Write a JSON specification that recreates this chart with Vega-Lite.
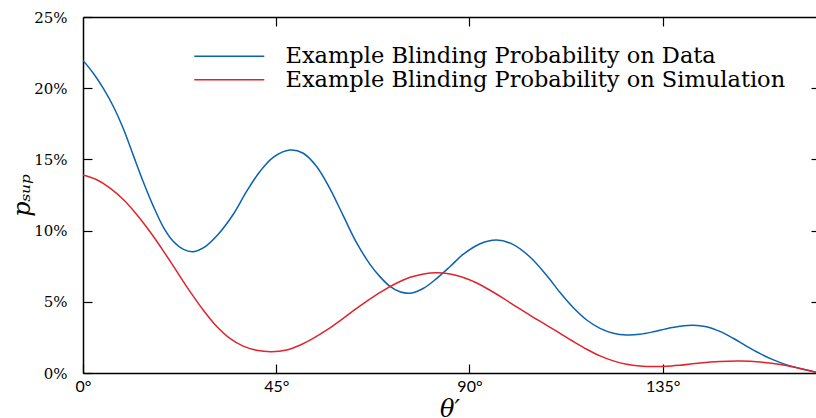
{
  "$schema": "https://vega.github.io/schema/vega-lite/v6.json",
  "width": 733,
  "height": 356,
  "autosize": {"type": "none"},
  "padding": {"left": 83, "top": 17, "right": 0, "bottom": 45},
  "background": "white",
  "config": {"view": {"stroke": null}},
  "data": {"values": [
    {"series": "Example Blinding Probability on Data", "theta": 0, "p": 0.2195},
    {"series": "Example Blinding Probability on Data", "theta": 2.4, "p": 0.2105},
    {"series": "Example Blinding Probability on Data", "theta": 4.7, "p": 0.2},
    {"series": "Example Blinding Probability on Data", "theta": 7.1, "p": 0.187},
    {"series": "Example Blinding Probability on Data", "theta": 9.4, "p": 0.1715},
    {"series": "Example Blinding Probability on Data", "theta": 11.7, "p": 0.153},
    {"series": "Example Blinding Probability on Data", "theta": 14.0, "p": 0.1345},
    {"series": "Example Blinding Probability on Data", "theta": 16.4, "p": 0.117},
    {"series": "Example Blinding Probability on Data", "theta": 18.7, "p": 0.1025},
    {"series": "Example Blinding Probability on Data", "theta": 21.0, "p": 0.0925},
    {"series": "Example Blinding Probability on Data", "theta": 23.4, "p": 0.0868},
    {"series": "Example Blinding Probability on Data", "theta": 25.7, "p": 0.0852},
    {"series": "Example Blinding Probability on Data", "theta": 28.0, "p": 0.0878},
    {"series": "Example Blinding Probability on Data", "theta": 31.5, "p": 0.0975},
    {"series": "Example Blinding Probability on Data", "theta": 35.0, "p": 0.1115},
    {"series": "Example Blinding Probability on Data", "theta": 38.1, "p": 0.1275},
    {"series": "Example Blinding Probability on Data", "theta": 41.2, "p": 0.1415},
    {"series": "Example Blinding Probability on Data", "theta": 44.3, "p": 0.1515},
    {"series": "Example Blinding Probability on Data", "theta": 48.2, "p": 0.1566},
    {"series": "Example Blinding Probability on Data", "theta": 51.3, "p": 0.1543},
    {"series": "Example Blinding Probability on Data", "theta": 54.4, "p": 0.145},
    {"series": "Example Blinding Probability on Data", "theta": 57.5, "p": 0.1295},
    {"series": "Example Blinding Probability on Data", "theta": 60.6, "p": 0.1105},
    {"series": "Example Blinding Probability on Data", "theta": 63.7, "p": 0.0915},
    {"series": "Example Blinding Probability on Data", "theta": 66.8, "p": 0.0765},
    {"series": "Example Blinding Probability on Data", "theta": 69.2, "p": 0.0675},
    {"series": "Example Blinding Probability on Data", "theta": 71.5, "p": 0.0608},
    {"series": "Example Blinding Probability on Data", "theta": 73.8, "p": 0.057},
    {"series": "Example Blinding Probability on Data", "theta": 76.2, "p": 0.056},
    {"series": "Example Blinding Probability on Data", "theta": 79.3, "p": 0.0595},
    {"series": "Example Blinding Probability on Data", "theta": 82.4, "p": 0.0665},
    {"series": "Example Blinding Probability on Data", "theta": 85.5, "p": 0.0748},
    {"series": "Example Blinding Probability on Data", "theta": 88.6, "p": 0.0835},
    {"series": "Example Blinding Probability on Data", "theta": 92.5, "p": 0.0908},
    {"series": "Example Blinding Probability on Data", "theta": 96.3, "p": 0.0934},
    {"series": "Example Blinding Probability on Data", "theta": 100.2, "p": 0.0902},
    {"series": "Example Blinding Probability on Data", "theta": 104.1, "p": 0.0815},
    {"series": "Example Blinding Probability on Data", "theta": 108.0, "p": 0.0685},
    {"series": "Example Blinding Probability on Data", "theta": 111.1, "p": 0.0565},
    {"series": "Example Blinding Probability on Data", "theta": 114.2, "p": 0.0458},
    {"series": "Example Blinding Probability on Data", "theta": 117.3, "p": 0.0372},
    {"series": "Example Blinding Probability on Data", "theta": 120.4, "p": 0.0313},
    {"series": "Example Blinding Probability on Data", "theta": 123.5, "p": 0.0279},
    {"series": "Example Blinding Probability on Data", "theta": 126.6, "p": 0.0267},
    {"series": "Example Blinding Probability on Data", "theta": 129.7, "p": 0.0272},
    {"series": "Example Blinding Probability on Data", "theta": 132.8, "p": 0.0289},
    {"series": "Example Blinding Probability on Data", "theta": 135.9, "p": 0.0311},
    {"series": "Example Blinding Probability on Data", "theta": 139.0, "p": 0.0328},
    {"series": "Example Blinding Probability on Data", "theta": 142.1, "p": 0.0336},
    {"series": "Example Blinding Probability on Data", "theta": 145.2, "p": 0.0325},
    {"series": "Example Blinding Probability on Data", "theta": 148.3, "p": 0.0292},
    {"series": "Example Blinding Probability on Data", "theta": 151.4, "p": 0.0244},
    {"series": "Example Blinding Probability on Data", "theta": 154.6, "p": 0.0187},
    {"series": "Example Blinding Probability on Data", "theta": 157.7, "p": 0.0136},
    {"series": "Example Blinding Probability on Data", "theta": 160.8, "p": 0.0092},
    {"series": "Example Blinding Probability on Data", "theta": 163.9, "p": 0.0057},
    {"series": "Example Blinding Probability on Data", "theta": 167.0, "p": 0.0031},
    {"series": "Example Blinding Probability on Data", "theta": 170.7, "p": 0.0005},
    {"series": "Example Blinding Probability on Simulation", "theta": 0, "p": 0.139},
    {"series": "Example Blinding Probability on Simulation", "theta": 3.2, "p": 0.1357},
    {"series": "Example Blinding Probability on Simulation", "theta": 6.3, "p": 0.1299},
    {"series": "Example Blinding Probability on Simulation", "theta": 9.4, "p": 0.1218},
    {"series": "Example Blinding Probability on Simulation", "theta": 12.5, "p": 0.1113},
    {"series": "Example Blinding Probability on Simulation", "theta": 15.6, "p": 0.0992},
    {"series": "Example Blinding Probability on Simulation", "theta": 18.7, "p": 0.0858},
    {"series": "Example Blinding Probability on Simulation", "theta": 21.8, "p": 0.0715},
    {"series": "Example Blinding Probability on Simulation", "theta": 24.9, "p": 0.0573},
    {"series": "Example Blinding Probability on Simulation", "theta": 28.0, "p": 0.0442},
    {"series": "Example Blinding Probability on Simulation", "theta": 31.1, "p": 0.0328},
    {"series": "Example Blinding Probability on Simulation", "theta": 34.2, "p": 0.0243},
    {"series": "Example Blinding Probability on Simulation", "theta": 37.3, "p": 0.0189},
    {"series": "Example Blinding Probability on Simulation", "theta": 40.4, "p": 0.016},
    {"series": "Example Blinding Probability on Simulation", "theta": 43.9, "p": 0.015},
    {"series": "Example Blinding Probability on Simulation", "theta": 47.4, "p": 0.0162},
    {"series": "Example Blinding Probability on Simulation", "theta": 50.5, "p": 0.0195},
    {"series": "Example Blinding Probability on Simulation", "theta": 53.6, "p": 0.0243},
    {"series": "Example Blinding Probability on Simulation", "theta": 56.8, "p": 0.0302},
    {"series": "Example Blinding Probability on Simulation", "theta": 59.9, "p": 0.0368},
    {"series": "Example Blinding Probability on Simulation", "theta": 62.9, "p": 0.0436},
    {"series": "Example Blinding Probability on Simulation", "theta": 66.1, "p": 0.0505},
    {"series": "Example Blinding Probability on Simulation", "theta": 69.5, "p": 0.0572},
    {"series": "Example Blinding Probability on Simulation", "theta": 73.1, "p": 0.0632},
    {"series": "Example Blinding Probability on Simulation", "theta": 76.2, "p": 0.0672},
    {"series": "Example Blinding Probability on Simulation", "theta": 79.3, "p": 0.0696},
    {"series": "Example Blinding Probability on Simulation", "theta": 82.4, "p": 0.0704},
    {"series": "Example Blinding Probability on Simulation", "theta": 85.5, "p": 0.0695},
    {"series": "Example Blinding Probability on Simulation", "theta": 88.6, "p": 0.0671},
    {"series": "Example Blinding Probability on Simulation", "theta": 91.7, "p": 0.0632},
    {"series": "Example Blinding Probability on Simulation", "theta": 94.8, "p": 0.0581},
    {"series": "Example Blinding Probability on Simulation", "theta": 97.9, "p": 0.0524},
    {"series": "Example Blinding Probability on Simulation", "theta": 101.0, "p": 0.0464},
    {"series": "Example Blinding Probability on Simulation", "theta": 104.5, "p": 0.0398},
    {"series": "Example Blinding Probability on Simulation", "theta": 108.0, "p": 0.0335},
    {"series": "Example Blinding Probability on Simulation", "theta": 111.1, "p": 0.0278},
    {"series": "Example Blinding Probability on Simulation", "theta": 114.2, "p": 0.0221},
    {"series": "Example Blinding Probability on Simulation", "theta": 117.3, "p": 0.0167},
    {"series": "Example Blinding Probability on Simulation", "theta": 120.4, "p": 0.012},
    {"series": "Example Blinding Probability on Simulation", "theta": 123.5, "p": 0.0085},
    {"series": "Example Blinding Probability on Simulation", "theta": 126.6, "p": 0.0061},
    {"series": "Example Blinding Probability on Simulation", "theta": 129.7, "p": 0.0049},
    {"series": "Example Blinding Probability on Simulation", "theta": 132.8, "p": 0.0045},
    {"series": "Example Blinding Probability on Simulation", "theta": 135.9, "p": 0.0047},
    {"series": "Example Blinding Probability on Simulation", "theta": 139.0, "p": 0.0055},
    {"series": "Example Blinding Probability on Simulation", "theta": 143.7, "p": 0.0071},
    {"series": "Example Blinding Probability on Simulation", "theta": 148.3, "p": 0.0081},
    {"series": "Example Blinding Probability on Simulation", "theta": 153.0, "p": 0.0084},
    {"series": "Example Blinding Probability on Simulation", "theta": 157.7, "p": 0.0077},
    {"series": "Example Blinding Probability on Simulation", "theta": 162.4, "p": 0.006},
    {"series": "Example Blinding Probability on Simulation", "theta": 166.2, "p": 0.0037},
    {"series": "Example Blinding Probability on Simulation", "theta": 170.7, "p": 0.0005}
  ]},
  "layer": [
    {
      "mark": {"type": "line", "interpolate": "catmull-rom", "strokeWidth": 1.5, "clip": true},
      "encoding": {
        "x": {"field": "theta", "type": "quantitative",
          "scale": {"domain": [0, 170.7], "nice": false, "zero": false},
          "axis": {"values": [0, 45, 90, 135], "labelExpr": "datum.value + '°'",
            "title": "θ′", "titleFont": "DejaVu Serif", "titleFontStyle": "italic", "titleFontWeight": "normal",
            "titleFontSize": 24, "titleColor": "black", "titleBaseline": "top", "titleY": 24,
            "labelFont": "Lato", "labelFontSize": 16, "labelColor": "black", "labelPadding": 14,
            "tickSize": -9, "tickColor": "black", "tickWidth": 1.2, "domainColor": "black", "domainWidth": 1.5,
            "grid": false, "labelFlush": false}},
        "y": {"field": "p", "type": "quantitative",
          "scale": {"domain": [0, 0.25], "nice": false},
          "axis": {"values": [0, 0.05, 0.1, 0.15, 0.2, 0.25], "format": ".0%",
            "title": "pₛᵤₚ", "titleFont": "DejaVu Serif", "titleFontStyle": "italic", "titleFontWeight": "normal",
            "titleFontSize": 24, "titleColor": "black", "titleBaseline": "middle", "titleX": -61, "titleY": 178, "titleAngle": -90,
            "labelFont": "DejaVu Serif", "labelFontSize": 15, "labelColor": "black", "labelPadding": 25,
            "tickSize": -9, "tickColor": "black", "tickWidth": 1.2, "domainColor": "black", "domainWidth": 1.5,
            "grid": false, "labelFlush": false}},
        "color": {"field": "series", "type": "nominal",
          "scale": {"domain": ["Example Blinding Probability on Data", "Example Blinding Probability on Simulation"], "range": ["#0a62b2", "#e2222c"]},
          "legend": {"title": null, "orient": "none", "legendX": 170, "legendY": 28,
            "symbolType": "M-14,0H0", "symbolSize": 100, "symbolStrokeWidth": 1.5,
            "labelFont": "DejaVu Serif", "labelFontSize": 22.5, "labelColor": "black", "labelOffset": 10,
            "rowPadding": 0.5, "labelLimit": 1000, "padding": 0}}
      }
    },
    {
      "mark": {"type": "rule", "opacity": 0},
      "encoding": {
        "x": {"field": "theta", "type": "quantitative", "aggregate": "min",
          "axis": {"orient": "top", "values": [45, 90, 135], "labels": false, "title": null,
            "tickSize": -9, "tickColor": "black", "tickWidth": 1.2, "domainColor": "black", "domainWidth": 1.5, "grid": false}},
        "y": {"field": "p", "type": "quantitative", "aggregate": "min",
          "axis": {"orient": "right", "values": [0.05, 0.1, 0.15, 0.2], "labels": false, "title": null,
            "tickSize": -5, "tickColor": "black", "tickWidth": 1.2, "domain": false, "grid": false}}
      }
    }
  ],
  "resolve": {"axis": {"x": "independent", "y": "independent"}}
}
